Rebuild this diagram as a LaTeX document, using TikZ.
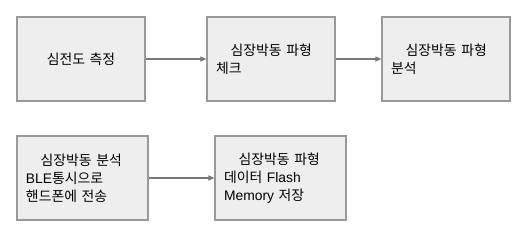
\documentclass[tikz,border=0pt]{standalone}
\usepackage{fontspec}
\setmainfont{Noto Sans CJK KR}
\newfontfamily\latfont{Liberation Sans}
\usepackage{tikz}
\usetikzlibrary{arrows.meta,positioning}
\definecolor{boxfill}{RGB}{238,238,238}
\definecolor{boxedge}{RGB}{153,153,153}
\definecolor{lnclr}{RGB}{120,120,120}
\tikzset{
  procbox/.style={draw=boxedge, fill=boxfill, line width=0.9pt, minimum height=63pt,
    align=left, inner xsep=6.75pt, inner ysep=0pt, text width=82.5pt,
    font=\fontsize{10.4}{13.5}\selectfont, text=black},
  widebox/.style={procbox, text width=84.75pt},
  flowln/.style={-{Triangle[length=4.5pt,width=3.8pt]}, line width=0.8pt, lnclr},
}
\newcommand{\ind}{\hspace*{11pt}}
\begin{document}
\begin{tikzpicture}[x=0.75pt, y=-0.75pt]
    \useasboundingbox (0,0) rectangle (531,246);
    % first row
    \node[procbox, align=center] (ecg) at (81,59) {심전도 측정};
    \node[procbox] (chk) at (271,59) {\ind 심장박동 파형\\체크};
    \node[procbox] (ana) at (446,59) {\ind 심장박동 파형\\분석};
    % second row
    \node[widebox] (ble) at (82.5,178) {\ind 심장박동 분석\\{\latfont BLE}통시으로\\핸드폰에 전송};
    \node[widebox] (mem) at (280.5,178) {\ind 심장박동 파형\\데이터 {\latfont Flash}\\{\latfont Memory} 저장};
    \draw[flowln] (ecg) -- (chk);
    \draw[flowln] (chk) -- (ana);
    \draw[flowln] (ble) -- (mem);
  \end{tikzpicture}
\end{document}
